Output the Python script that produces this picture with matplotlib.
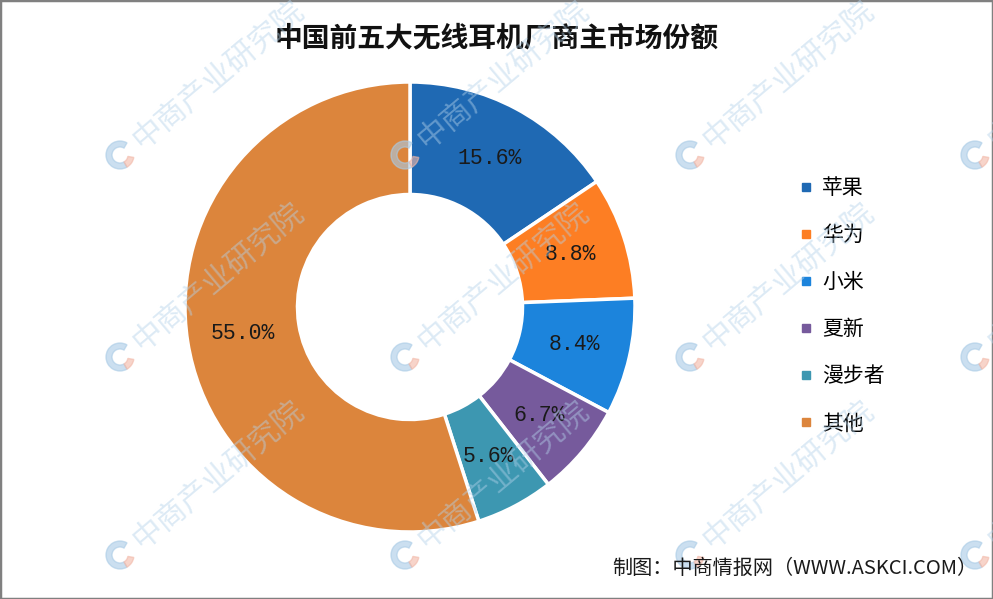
import matplotlib
matplotlib.use("Agg")
import matplotlib.pyplot as plt
from matplotlib.lines import Line2D
from matplotlib.patches import Rectangle, Wedge

plt.rcParams['font.family'] = ['Noto Sans CJK SC', 'DejaVu Sans']

# data
brands = ['苹果', '华为', '小米', '夏新', '漫步者', '其他']
shares = [15.6, 8.8, 8.4, 6.7, 5.6, 55.0]
colors = ['#1f69b3', '#fd7e23', '#1c84dc', '#765a9c', '#3d97b1', '#dc853c']
title = '中国前五大无线耳机厂商主市场份额'
source = '制图：中商情报网（WWW.ASKCI.COM）'

W, H = 993, 599
fig = plt.figure(figsize=(W / 100, H / 100), dpi=100)

# donut: center (410, 307) px, radius 225 px
cx, cy, r = 410, 307, 225
ax = fig.add_axes([(cx - r) / W, (H - cy - r) / H, 2 * r / W, 2 * r / H])
wedges, _, autotexts = ax.pie(
    shares, colors=colors, startangle=90, counterclock=False,
    autopct=lambda p: f'{p:.1f}%', pctdistance=0.75,
    wedgeprops=dict(width=0.5, edgecolor='white', linewidth=2.5),
    textprops=dict(fontsize=15.5, family='Liberation Mono', color='#1a1a1a'))
for t, v in zip(autotexts, shares):
    t.set_text(f'{v:.1f}%')
ax.set_xlim(-1, 1)
ax.set_ylim(-1, 1)
ax.set_aspect('equal')

fig.text(0.5, 1 - 38 / H, title, ha='center', va='center',
         fontsize=20, fontweight='bold', color='#111111')

handles = [Line2D([], [], marker='s', linestyle='none', markersize=5.5,
                  markerfacecolor=c, markeredgecolor=c) for c in colors]
fig.legend(handles, brands, loc='upper left',
           bbox_to_anchor=(789 / W, 1 - 167 / H), frameon=False,
           fontsize=15, handlelength=0.6, handletextpad=0.5,
           labelspacing=1.2, borderpad=0)

fig.text(977 / W, 1 - 568 / H, source, ha='right', va='center',
         fontsize=14.5, color='#1a1a1a')

# faint watermarks
for lx in [120, 405, 690, 975]:
    for ly in [155, 357, 555]:
        fig.text((lx + 16) / W, 1 - (ly - 12) / H, '中商产业研究院',
                 rotation=40, rotation_mode='anchor', ha='left', va='center',
                 fontsize=22, color='#b3d2ea', alpha=0.45, zorder=10)
        fig.patches.append(Wedge((lx, H - ly), 14, 60, 300, width=6,
                                 color='#a9cbe6', alpha=0.6, transform=None,
                                 figure=fig))
        fig.patches.append(Wedge((lx, H - ly), 14, 300, 350, width=6,
                                 color='#f2b8a8', alpha=0.6, transform=None,
                                 figure=fig))

fig.patches.append(Rectangle((0, 0), 1, 1, transform=fig.transFigure,
                             fill=False, edgecolor='#808080', linewidth=2.5,
                             figure=fig))

fig.savefig('out.png', dpi=100)
